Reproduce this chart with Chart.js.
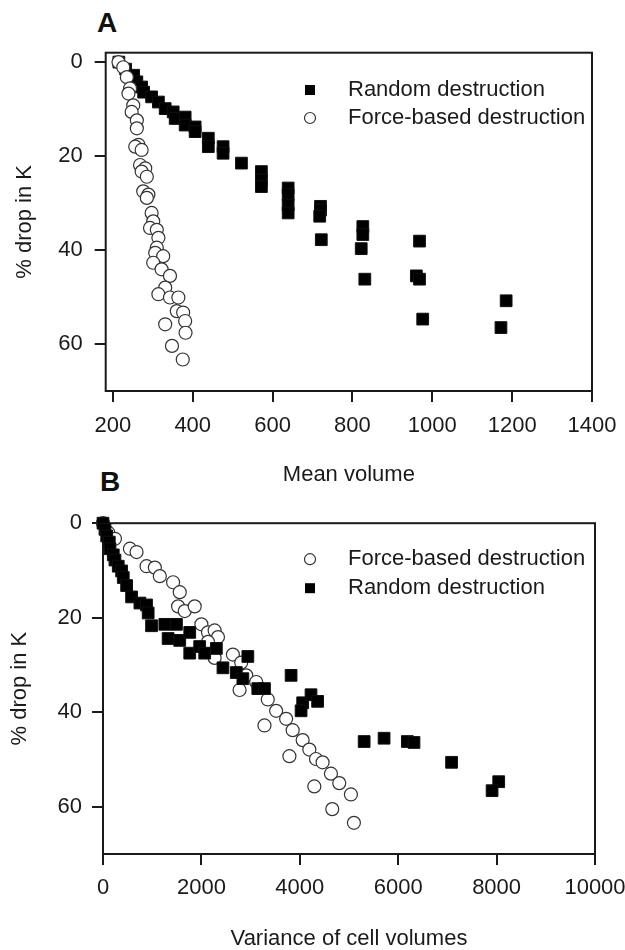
<!DOCTYPE html>
<html>
<head>
<meta charset="utf-8">
<script src="https://cdn.jsdelivr.net/npm/chart.js@4.4.0/dist/chart.umd.min.js"></script>
<style>
  html, body { margin: 0; padding: 0; background: #fff; overflow: hidden; }
  body { width: 625px; height: 950px; position: relative; font-family: "Liberation Sans", Arial, sans-serif; }
  canvas { position: absolute; left: 0; }
  #chartA { top: 0; }
  #chartB { top: 500px; }
  .panel-letter { position: absolute; font-weight: bold; font-size: 28px; line-height: 28px; color: #111; }
</style>
</head>
<body>
<div class="panel-letter" style="left:97px; top:9px;">A</div>
<div class="panel-letter" style="left:100px; top:468px;">B</div>
<canvas id="chartA" width="625" height="500"></canvas>
<canvas id="chartB" width="625" height="452"></canvas>
<script>
//data
const xTicksA = [200, 400, 600, 800, 1000, 1200, 1400];
const xTicksB = [0, 2000, 4000, 6000, 8000, 10000];
const yTicks = [0, 20, 40, 60];

//panel A: mean volume vs % drop in K
const randomAX = [215, 232, 252, 260, 272, 277, 297, 314, 331, 351, 356, 381, 381, 406, 406, 439, 439, 476, 476, 522,
  572, 572, 572, 639, 639, 639, 639, 720, 720, 718, 722, 826, 826, 822, 831, 968, 960, 968, 976, 1185, 1172];
const randomAY = [0, 1.5, 2.8, 4.2, 5.3, 6.4, 7.4, 8.5, 9.9, 10.6, 12.0, 11.7, 13.4, 13.8, 14.8, 16.2, 18.0, 18.0, 19.4, 21.5,
  23.3, 25.1, 26.5, 26.8, 28.2, 30.4, 32.1, 30.7, 31.5, 32.8, 37.8, 35.0, 36.7, 39.7, 46.2, 38.1, 45.5, 46.2, 54.7, 50.8, 56.5];
const forceAX = [214, 226, 235, 243, 239, 251, 247, 260, 260, 264, 256, 272, 268, 281, 272, 285, 276, 289, 285, 297,
  301, 293, 310, 314, 310, 306, 326, 301, 322, 343, 331, 314, 343, 364, 360, 376, 381, 331, 382, 348, 375];
const forceAY = [0, 1.1, 3.2, 5.6, 6.7, 9.2, 10.6, 12.4, 14.1, 17.6, 18.0, 18.7, 21.9, 22.6, 23.3, 24.4, 27.5, 28.2, 28.9, 32.1,
  33.9, 35.3, 35.7, 37.4, 39.5, 40.6, 41.3, 42.7, 44.1, 45.5, 48.0, 49.4, 50.1, 50.1, 53.0, 53.3, 55.1, 55.8, 57.6, 60.4, 63.3];

//panel B: variance of cell volumes vs % drop in K
const forceBX = [0, 108, 243, 547, 682, 885, 1054, 1155, 1425, 1560, 1526, 1661, 1864, 2000, 2134, 2269, 2337, 2134, 2269, 2640,
  2809, 2911, 2776, 3114, 3349, 3519, 3722, 3282, 3855, 4058, 4194, 4329, 3789, 4463, 4633, 4802, 5039, 4295, 4660, 5100];
const forceBY = [0, 2.0, 3.3, 5.4, 6.1, 9.1, 9.4, 11.2, 12.5, 14.6, 17.6, 18.6, 17.6, 21.4, 23.1, 22.7, 24.1, 25.1, 28.5, 27.8,
  29.5, 32.2, 35.3, 33.6, 37.3, 39.7, 41.4, 42.8, 43.8, 45.9, 47.9, 49.9, 49.3, 50.6, 53.0, 55.0, 57.4, 55.7, 60.5, 63.4];
const randomBX = [0, 40, 75, 128, 142, 209, 243, 310, 378, 412, 480, 581, 750, 885, 918, 987, 1256, 1493, 1323, 1560,
  1763, 1763, 1965, 2067, 2304, 2438, 2709, 2843, 2944, 3146, 3282, 3823, 4058, 4026, 4228, 4362, 5308, 5713, 6186, 6321,
  7085, 8043, 7908];
const randomBY = [0, 1.3, 2.7, 4.0, 5.4, 6.7, 7.8, 9.1, 10.1, 11.5, 13.2, 15.6, 16.9, 17.3, 19.0, 21.7, 21.4, 21.4, 24.4, 24.8,
  23.1, 27.5, 26.1, 27.5, 26.5, 30.6, 31.6, 32.9, 28.2, 35.0, 35.0, 32.2, 38.0, 39.7, 36.3, 37.7, 46.2, 45.5, 46.2, 46.4,
  50.6, 54.7, 56.6];

const ink = "#1a1a1a";
const fontFamily = "'Liberation Sans', Arial, sans-serif";

function toPoints(xs, ys) {
  return xs.map((x, i) => ({ x: x, y: ys[i] }));
}

//box round the plot area + legend inside it
const boxLegend = {
  id: "boxLegend",
  beforeDatasetsDraw(chart) {
    const { ctx, chartArea } = chart;
    ctx.save();
    ctx.strokeStyle = ink;
    ctx.lineWidth = 2;
    ctx.strokeRect(chartArea.left, chartArea.top, chartArea.right - chartArea.left, chartArea.bottom - chartArea.top);
    ctx.restore();
  },
  afterDraw(chart, args, opts) {
    const { ctx, chartArea } = chart;
    ctx.save();
    ctx.font = "22px " + fontFamily;
    ctx.textBaseline = "middle";
    ctx.fillStyle = ink;
    opts.items.forEach((item) => {
      const ds = chart.data.datasets[item.ds];
      const mx = chartArea.left + opts.markerX;
      const my = chartArea.top + item.dy;
      if (ds.pointStyle === "rect") {
        ctx.fillStyle = "#000";
        ctx.fillRect(mx - 5, my - 5, 10, 10);
      } else {
        ctx.beginPath();
        ctx.arc(mx, my, 5.5, 0, Math.PI * 2);
        ctx.fillStyle = "#fff";
        ctx.fill();
        ctx.strokeStyle = "#333";
        ctx.lineWidth = 1.2;
        ctx.stroke();
      }
      ctx.fillStyle = ink;
      ctx.fillText(ds.label, chartArea.left + opts.textX, my);
    });
    ctx.restore();
  },
};

function squareSet(label, data, order) {
  return {
    label: label,
    data: data,
    pointStyle: "rect",
    pointRadius: 8.3,
    pointHoverRadius: 8.3,
    backgroundColor: "#000",
    borderColor: "#111",
    borderWidth: 1,
    order: order,
    clip: false,
  };
}

function circleSet(label, data, order) {
  return {
    label: label,
    data: data,
    pointStyle: "circle",
    pointRadius: 6.5,
    pointHoverRadius: 6.5,
    backgroundColor: "#fff",
    borderColor: "#333",
    borderWidth: 1.2,
    order: order,
    clip: false,
  };
}

function makeScales(o) {
  return {
    x: {
      type: "linear",
      min: o.xMin,
      max: o.xMax,
      afterBuildTicks: (scale) => { scale.ticks = o.xTicks.map((v) => ({ value: v })); },
      afterFit: (scale) => {
        scale.height = o.xHeight;
        //keep the last tick label from squeezing the plot box
        scale.paddingLeft = 0;
        scale.paddingRight = 0;
      },
      border: { display: false },
      grid: { drawOnChartArea: false, drawTicks: true, tickLength: 11, color: ink, lineWidth: 2 },
      ticks: { color: ink, padding: o.xPad, maxRotation: 0, callback: (v) => String(v),
        font: { size: 22, family: fontFamily } },
      title: { display: true, text: o.xTitle, color: ink, padding: { top: 0, bottom: o.xTitlePad },
        font: { size: 22, family: fontFamily, lineHeight: 1.2 } },
    },
    y: {
      type: "linear",
      reverse: true,
      min: o.yMin,
      max: 70,
      afterBuildTicks: (scale) => { scale.ticks = yTicks.map((v) => ({ value: v })); },
      afterFit: (scale) => { scale.width = o.yWidth; },
      border: { display: false },
      grid: { drawOnChartArea: false, drawTicks: true, tickLength: 11, color: ink, lineWidth: 2 },
      ticks: { color: ink, padding: o.yPad, callback: (v) => String(v), font: { size: 22, family: fontFamily } },
      title: { display: true, text: "% drop in K", color: ink, padding: { top: o.yTitlePad, bottom: 0 },
        font: { size: 22, family: fontFamily, lineHeight: 1.2 } },
    },
  };
}

function setUpChart(canvasId, datasets, scales, padding, legend) {
  return new Chart(document.getElementById(canvasId), {
    type: "scatter",
    data: { datasets: datasets },
    options: {
      responsive: false,
      animation: false,
      devicePixelRatio: 1,
      layout: { padding: padding },
      scales: scales,
      plugins: {
        legend: { display: false },
        tooltip: { enabled: false },
        boxLegend: legend,
      },
    },
    plugins: [boxLegend],
  });
}

setUpChart(
  "chartA",
  [
    squareSet("Random destruction", toPoints(randomAX, randomAY), 2),
    circleSet("Force-based destruction", toPoints(forceAX, forceAY), 1),
  ],
  makeScales({ xMin: 182, xMax: 1400, xTicks: xTicksA, xHeight: 109, xPad: 11, xTitle: "Mean volume", xTitlePad: 11.8,
    yMin: -2, yWidth: 105.7, yPad: 12, yTitlePad: 11.8 }),
  { top: 52.7, right: 33, bottom: 0, left: 0 },
  { markerX: 204.3, textX: 242.3, items: [{ ds: 0, dy: 37.3 }, { ds: 1, dy: 65.3 }] }
);

setUpChart(
  "chartB",
  [
    circleSet("Force-based destruction", toPoints(forceBX, forceBY), 2),
    squareSet("Random destruction", toPoints(randomBX, randomBY), 1),
  ],
  makeScales({ xMin: 0, xMax: 10000, xTicks: xTicksB, xHeight: 98, xPad: 10, xTitle: "Variance of cell volumes", xTitlePad: 0,
    yMin: 0, yWidth: 103, yPad: 10, yTitlePad: 6.8 }),
  { top: 12, right: 30, bottom: 0, left: 0 },
  { markerX: 207, textX: 245, items: [{ ds: 0, dy: 36 }, { ds: 1, dy: 65 }] }
);
</script>
</body>
</html>
